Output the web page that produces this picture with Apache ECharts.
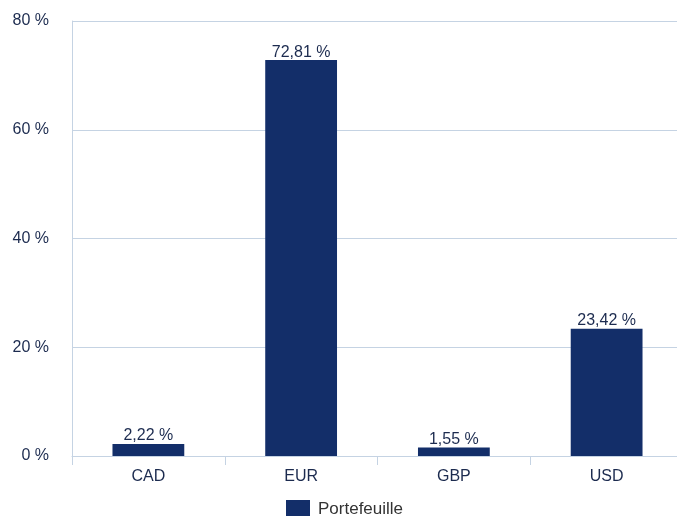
<!DOCTYPE html>
<html><head><meta charset="utf-8">
<script src="https://cdn.jsdelivr.net/npm/echarts@6/dist/echarts.min.js"></script>
<style>html,body{margin:0;padding:0;background:#fff}#c{width:677px;height:516px}</style>
</head><body><div id="c"></div>
<script>
const categories = ['CAD', 'EUR', 'GBP', 'USD'];
const portefeuille = [2.22, 72.81, 1.55, 23.42];
const yTicks = [0, 20, 40, 60, 80];
const seriesName = 'Portefeuille';

const chart = echarts.init(document.getElementById('c'), null, {renderer: 'canvas'});
const fmt = v => v.toFixed(2).replace('.', ',') + ' %';
const FF = 'Liberation Sans, Arial, sans-serif';
chart.setOption({
  animation: false,
  textStyle: {fontFamily: FF},
  grid: {left: 72, width: 611, top: 21, height: 435, containLabel: false, outerBoundsMode: 'none'},
  legend: {
    data: [seriesName], top: 495, left: 281,
    itemWidth: 24, itemHeight: 18, itemGap: 6,
    textStyle: {color: '#333333', fontSize: 17, fontFamily: FF, padding: [0, 0, 0, 3]},
    icon: 'rect'
  },
  xAxis: {
    type: 'category', data: categories,
    axisLine: {show: true, lineStyle: {color: '#c5d3e3', width: 1}},
    axisTick: {show: true, length: 9, lineStyle: {color: '#c5d3e3'}},
    axisLabel: {color: '#1c2b4f', fontSize: 16, margin: 13}
  },
  yAxis: {
    type: 'value', min: yTicks[0], max: yTicks[yTicks.length - 1], interval: 20,
    axisLine: {show: true, lineStyle: {color: '#c5d3e3', width: 1}},
    axisTick: {show: false},
    splitLine: {show: true, lineStyle: {color: '#c5d3e3', width: 1}},
    axisLabel: {color: '#1c2b4f', fontSize: 16, margin: 23, formatter: v => v + ' %'}
  },
  series: [{
    name: seriesName, type: 'bar', data: portefeuille,
    barWidth: '47%',
    itemStyle: {color: '#132e69'},
    label: {
      show: true, position: 'top', distance: 0,
      color: '#1c2b4f', fontSize: 16,
      formatter: p => fmt(p.value)
    }
  }]
});
</script></body></html>
